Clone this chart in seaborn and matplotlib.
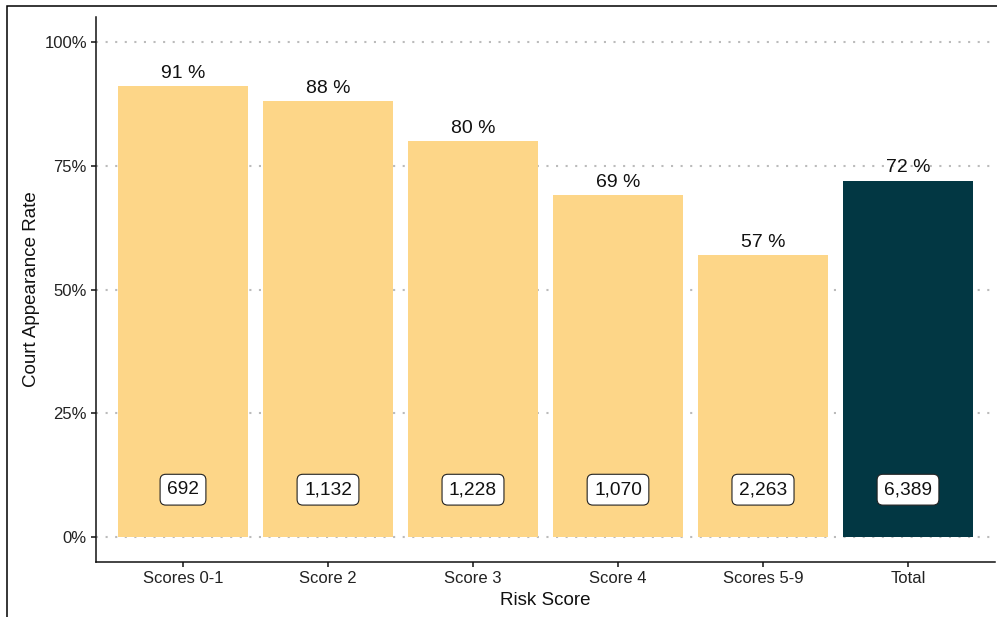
import numpy as np
import pandas as pd
import seaborn as sns
import matplotlib.pyplot as plt
from matplotlib.patches import Rectangle

categories = ["Scores 0-1", "Score 2", "Score 3", "Score 4", "Scores 5-9", "Total"]
rates = [91, 88, 80, 69, 57, 72]
counts = ["692", "1,132", "1,228", "1,070", "2,263", "6,389"]
bar_colors = ["#FDD688", "#FDD688", "#FDD688", "#FDD688", "#FDD688", "#023743"]
yticks = [0, 25, 50, 75, 100]

sns.set_theme(style="white")
plt.rcParams['font.family'] = ['Liberation Sans', 'DejaVu Sans']

df = pd.DataFrame({"risk": categories, "rate": rates})

fig = plt.figure(figsize=(9.97, 6.17), dpi=100)
W, H = 997, 617
ax = fig.add_axes([96 / W, (H - 562) / H, (995 - 96) / W, (562 - 17) / H])

ax.set_ylim(-5, 105)
for t in yticks:
    ax.axhline(t, color="#BBBBBB", lw=1.5, linestyle=(0, (1, 3.6)), zorder=0)

sns.barplot(data=df, x="risk", y="rate", hue="risk", palette=bar_colors,
            legend=False, width=0.9, saturation=1, linewidth=0, ax=ax, zorder=2)
ax.set_xlim(-0.6, len(categories) - 0.4)

for i, (r, c) in enumerate(zip(rates, counts)):
    ax.annotate(f"{r} %", (i, r), xytext=(0, 3), textcoords="offset points",
                ha="center", va="bottom", fontsize=14, color="#111111", zorder=4)
    ax.text(i, 10, c, ha="center", va="center_baseline", fontsize=13.8, color="#111111", zorder=4,
            bbox=dict(boxstyle="round,pad=0.36,rounding_size=0.3", fc="white",
                      ec="#222222", lw=0.8))

ax.set_yticks(yticks)
ax.set_yticklabels([f"{t}%" for t in yticks])
ax.tick_params(axis="both", which="both", direction="out", length=3.5, width=1.1,
               color="#111111", labelsize=12, labelcolor="#222222", pad=3, left=True, bottom=True)

for side in ["top", "right"]:
    ax.spines[side].set_visible(False)
for side in ["left", "bottom"]:
    ax.spines[side].set_color("#111111")
    ax.spines[side].set_linewidth(1.1)

ax.set_xlabel("Risk Score", fontsize=13.5, color="#111111", labelpad=4)
ax.set_ylabel("Court Appearance Rate", fontsize=13.5, color="#111111", labelpad=3)

# outer border of the original panel
fig.patches.append(Rectangle((7 / W, -0.1), 1.1, (H - 6) / H + 0.1, transform=fig.transFigure,
                             fill=False, ec="black", lw=1.1, zorder=10))

fig.savefig("out.png", dpi=100)
